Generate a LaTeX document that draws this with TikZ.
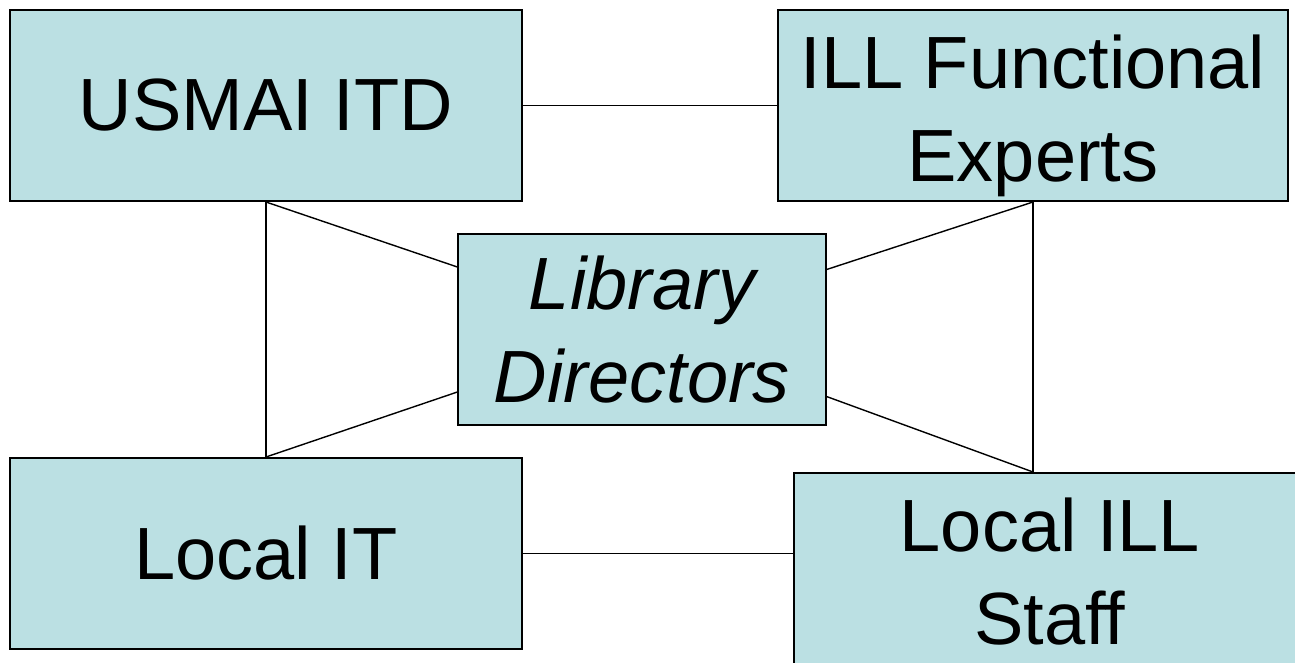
\documentclass[tikz,border=0pt]{standalone}
\usepackage{fontspec}
\setmainfont{Liberation Sans}
\definecolor{boxfill}{HTML}{BBE0E3}
\tikzset{
  box/.style={draw=black, line width=2pt, fill=boxfill, inner sep=0pt, align=center,
    font=\fontsize{74}{93}\selectfont},
  link/.style={draw=black, line width=1.4pt}
}
\begin{document}
\begin{tikzpicture}[x=1pt,y=-1pt]
\useasboundingbox (0,0) rectangle (1295,663);
\begin{scope}
\clip (0,0) rectangle (1295,663);
\node[box, minimum width=512pt, minimum height=191pt] (usmai) at (266,105.5) {USMAI ITD};
\node[box, minimum width=510pt, minimum height=191pt] (ilf) at (1033,105.5) {\rule{0pt}{74pt}ILL Functional\\Experts};
\node[box, minimum width=368pt, minimum height=191pt] (lib) at (642,329.5) {\itshape Library\\\itshape Directors};
\node[box, minimum width=512pt, minimum height=191pt] (lit) at (266,553.5) {Local IT};
\node[box, minimum width=512pt, minimum height=191pt] (lis) at (1050,568.5) {\rule{0pt}{60pt}Local ILL\\Staff};
\coordinate (lisw) at (lis.west |- lit.east);
\coordinate (lisn) at (ilf.south |- lis.north);
\end{scope}
\draw[link] (usmai.east) -- (ilf.west);
\draw[link] (usmai.south) -- (lit.north);
\draw[link] (usmai.south) -- (lib);
\draw[link] (lit.north) -- (lib);
\draw[link] (ilf.south) -- (lisn);
\draw[link] (ilf.south) -- (lib);
\draw[link] (lisn) -- (lib);
\draw[link] (lit.east) -- (lisw);
\end{tikzpicture}
\end{document}
